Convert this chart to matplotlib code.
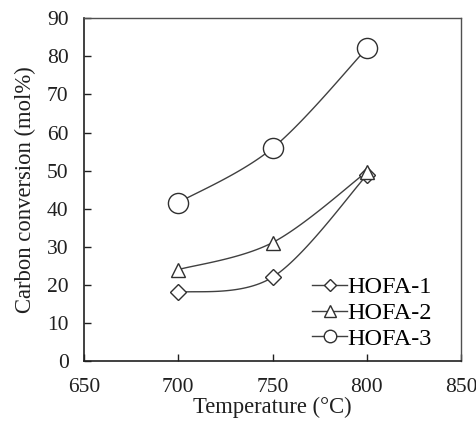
import numpy as np
import matplotlib
matplotlib.use("Agg")
import matplotlib.pyplot as plt

temperature = [700, 750, 800]
hofa1 = [18.0, 22.0, 48.8]
hofa2 = [24.0, 31.1, 49.7]
hofa3 = [41.6, 55.9, 82.1]
series_names = ["HOFA-1", "HOFA-2", "HOFA-3"]
x_ticks = [650, 700, 750, 800, 850]
y_ticks = [0, 10, 20, 30, 40, 50, 60, 70, 80, 90]

plt.rcParams['font.family'] = ['Liberation Serif', 'DejaVu Serif']


def smooth(xs, ys, n=40):
    # Excel-like smoothed line (Catmull-Rom cubic Bezier segments)
    x = np.asarray(xs, float)
    y = np.asarray(ys, float)
    px = np.concatenate([[x[0]], x, [x[-1]]])
    py = np.concatenate([[y[0]], y, [y[-1]]])
    outx, outy = [], []
    t = np.linspace(0, 1, n)
    for i in range(len(x) - 1):
        p0 = np.array([px[i + 1], py[i + 1]])
        p3 = np.array([px[i + 2], py[i + 2]])
        c1 = p0 + (np.array([px[i + 2], py[i + 2]]) - np.array([px[i], py[i]])) / 6
        c2 = p3 - (np.array([px[i + 3], py[i + 3]]) - np.array([px[i + 1], py[i + 1]])) / 6
        b = ((1 - t) ** 3)[:, None] * p0 + (3 * (1 - t) ** 2 * t)[:, None] * c1 \
            + (3 * (1 - t) * t ** 2)[:, None] * c2 + (t ** 3)[:, None] * p3
        outx.extend(b[:, 0]); outy.extend(b[:, 1])
    return outx, outy


fig = plt.figure(figsize=(4.76, 4.23), dpi=100)
ax = fig.add_axes([0.1765, 0.1466, 0.792, 0.81])

markers = ['D', '^', 'o']
msizes = [8.5, 10, 14.5]
leg_sizes = [6.5, 8.5, 9.0]
for ys, name, m, ms, lms in zip([hofa1, hofa2, hofa3], series_names, markers, msizes, leg_sizes):
    sx, sy = smooth(temperature, ys)
    ax.plot(sx, sy, color='#404040', lw=1.0, zorder=2)
    ax.plot(temperature, ys, linestyle='none', marker=m, markersize=ms,
            markerfacecolor='white', markeredgecolor='#303030', markeredgewidth=1.0, zorder=3)
    ax.plot([], [], color='#404040', lw=1.0, marker=m, markersize=lms,
            markerfacecolor='white', markeredgecolor='#303030', markeredgewidth=1.0, label=name)

ax.set_xlim(650, 850)
ax.set_ylim(0, 90)
ax.set_xticks(x_ticks)
ax.set_yticks(y_ticks)
ax.tick_params(direction='in', length=5, width=1, labelsize=15.5, colors='#202020')
ax.tick_params(axis='y', pad=11)
ax.tick_params(axis='x', pad=12)
for s in ['left', 'bottom']:
    ax.spines[s].set_linewidth(1.2)
    ax.spines[s].set_color('#202020')
for s in ['top', 'right']:
    ax.spines[s].set_linewidth(1.0)
    ax.spines[s].set_color('#505050')

ax.set_xlabel('Temperature (°C)', fontsize=16.3, color='#202020', labelpad=0)
ax.set_ylabel('Carbon conversion (mol%)', fontsize=16.3, color='#202020', labelpad=8)

leg = ax.legend(loc='center left', frameon=False, fontsize=17.5, handlelength=1.45,
                handletextpad=0.0, labelspacing=0.15, borderaxespad=0.0, borderpad=0.0,
                bbox_to_anchor=(0.605, 0.14))

fig.savefig('out.png', dpi=100)
